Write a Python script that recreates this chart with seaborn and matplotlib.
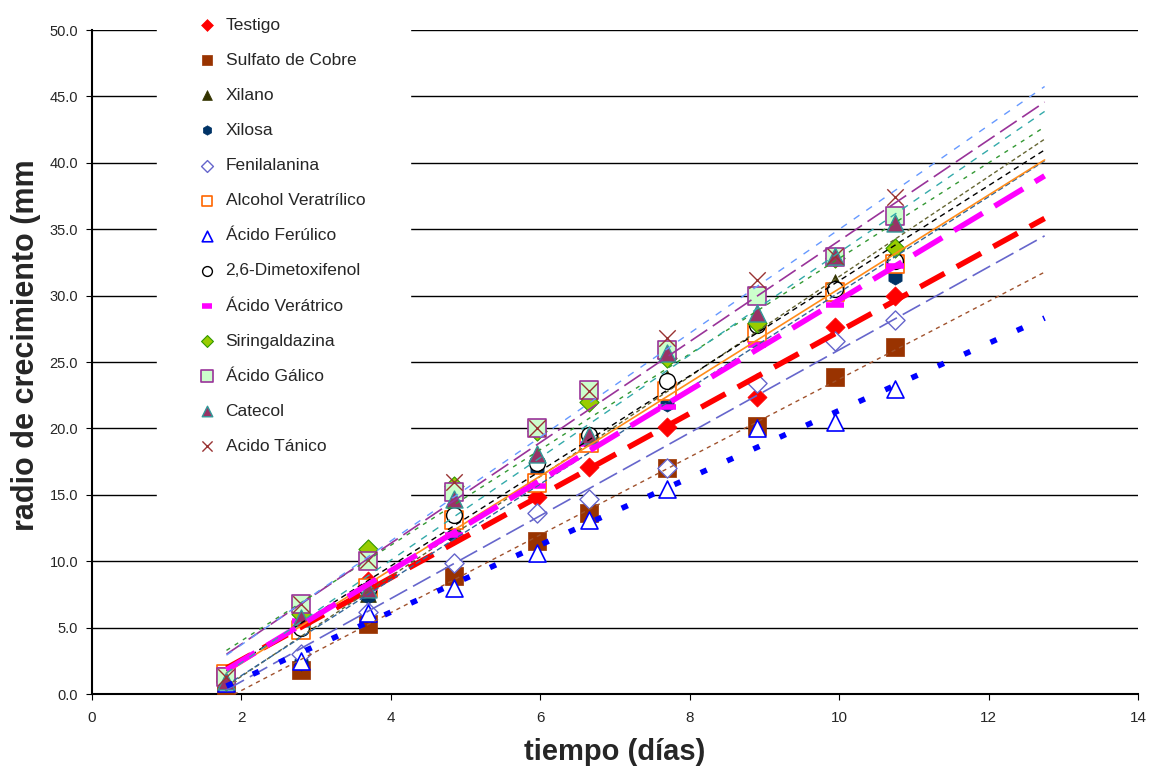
import numpy as np
import pandas as pd
import matplotlib
matplotlib.use('Agg')
import matplotlib.pyplot as plt
import seaborn as sns

# days of measurement (shared by all treatments)
dias = [1.8, 2.8, 3.7, 4.85, 5.95, 6.65, 7.7, 8.9, 9.95, 10.75]

testigo = [1.0, 5.3, 8.5, 12.0, 14.8, 17.1, 20.1, 22.4, 27.6, 30.0]
sulfato_cobre = [0.5, 1.8, 5.3, 8.9, 11.5, 13.6, 17.0, 20.2, 23.9, 26.1]
xilano = [0.8, 2.5, 7.5, 13.2, 16.5, 19.5, 23.8, 27.5, 31.0, 33.0]
xilosa = [1.0, 2.3, 7.4, 12.0, 16.7, 19.5, 21.8, 27.0, 30.0, 31.4]
fenilalanina = [1.2, 3.0, 6.2, 9.9, 13.6, 14.7, 17.0, 23.4, 26.6, 28.2]
alcohol_veratrilico = [1.5, 4.8, 8.0, 13.1, 15.9, 18.9, 22.8, 27.2, 30.3, 32.4]
acido_ferulico = [0.8, 2.5, 6.1, 8.0, 10.6, 13.1, 15.4, 20.0, 20.5, 23.0]
dimetoxifenol = [1.2, 5.0, 7.8, 13.5, 17.4, 19.5, 23.6, 27.8, 30.5, 32.6]
acido_veratrico = [1.8, 5.5, 8.0, 12.0, 15.7, 18.8, 21.6, 26.3, 29.3, 32.2]
siringaldazina = [1.0, 6.0, 10.9, 15.7, 19.8, 22.0, 25.3, 27.9, 32.8, 33.6]
acido_galico = [1.3, 6.8, 10.0, 15.2, 20.0, 22.9, 25.9, 30.0, 32.9, 36.0]
catecol = [1.0, 5.7, 7.9, 14.7, 18.1, 19.5, 25.7, 28.7, 33.0, 35.5]
acido_tanico = [1.3, 6.8, 10.1, 16.0, 20.0, 22.8, 26.8, 31.2, 33.0, 37.4]

nombres = ['Testigo', 'Sulfato de Cobre', 'Xilano', 'Xilosa', 'Fenilalanina',
           'Alcohol Veratrílico', 'Ácido Ferúlico', '2,6-Dimetoxifenol',
           'Ácido Verátrico', 'Siringaldazina', 'Ácido Gálico', 'Catecol',
           'Acido Tánico']
valores = [testigo, sulfato_cobre, xilano, xilosa, fenilalanina, alcohol_veratrilico,
           acido_ferulico, dimetoxifenol, acido_veratrico, siringaldazina,
           acido_galico, catecol, acido_tanico]

# marker: (marker, size, facecolor, edgecolor, edgewidth)
marcadores = [
    ('D', 95, '#FF0000', '#FF0000', 0.5),
    ('s', 150, '#993300', '#993300', 0.5),
    ('^', 130, '#333300', '#333300', 0.5),
    ('h', 120, '#003366', '#003366', 0.5),
    ('D', 95, 'white', '#6666CC', 1.0),
    ('s', 150, 'white', '#FF6600', 1.2),
    ('^', 150, 'white', '#0000FF', 1.2),
    ('o', 130, 'white', 'black', 1.0),
    ('_', 160, '#FF00FF', '#FF00FF', 4.0),
    ('D', 95, '#99CC00', '#339900', 0.8),
    ('s', 170, '#CCFFCC', '#993399', 1.2),
    ('^', 150, '#993366', '#339999', 1.0),
    ('x', 140, '#993333', '#993333', 1.0),
]

# trendline: (color, width, dash pattern)
tendencias = [
    ('#FF0000', 4.0, (5, 2.5)),
    ('#A0522D', 1.0, (3, 3)),
    ('#666633', 1.0, (3, 2)),
    ('#336699', 1.0, (4, 2)),
    ('#6666CC', 1.2, (12, 4)),
    ('#FF8C1A', 1.2, None),
    ('#0000FF', 4.0, (1.2, 4)),
    ('black', 1.0, (4, 3)),
    ('#FF00FF', 4.0, (6, 2.5)),
    ('#339933', 1.0, (3, 4)),
    ('#993399', 1.2, (12, 4)),
    ('#33AAAA', 1.0, (5, 5)),
    ('#6699FF', 1.0, (5, 6)),
]

sns.set_style('white')
plt.rcParams['font.family'] = ['Liberation Sans', 'DejaVu Sans']
narrow = ['Liberation Sans Narrow', 'Liberation Sans', 'DejaVu Sans']

fig = plt.figure(figsize=(11.49, 7.69), dpi=100)
ax = fig.add_axes([92/1149, 1 - 694/769, (1138 - 92)/1149, (694 - 30)/769])

x_fin = max(dias) + 2
for nombre, vals, (mk, s, fc, ec, ew), (lc, lw, ds) in zip(nombres, valores, marcadores, tendencias):
    df = pd.DataFrame({'dias': dias, 'radio': vals})
    sns.scatterplot(data=df, x='dias', y='radio', marker=mk, s=s, color=fc,
                    edgecolor=ec, linewidth=ew, label=nombre, ax=ax, zorder=3)
    m, b = np.polyfit(dias, vals, 1)
    xt = np.array([min(dias), x_fin])
    ls = '-' if ds is None else (0, ds)
    sns.lineplot(x=xt, y=m*xt + b, color=lc, lw=lw, linestyle=ls, ax=ax,
                 legend=False, zorder=4)

ax.set_xlim(0, 14)
ax.set_ylim(0, 50)
ax.set_xticks(range(0, 15, 2))
ax.set_yticks(np.arange(0, 51, 5))
ax.set_yticklabels([f'{v:.1f}' for v in np.arange(0, 51, 5)])
ax.yaxis.grid(True, color='black', lw=1)
ax.xaxis.grid(False)
ax.set_axisbelow(True)
for sp in ['top', 'right']:
    ax.spines[sp].set_visible(False)
for sp in ['left', 'bottom']:
    ax.spines[sp].set_color('black')
    ax.spines[sp].set_linewidth(1.5)
ax.tick_params(axis='both', direction='out', length=4, color='black', left=True, bottom=True)
ax.tick_params(axis='y', labelsize=10.5, pad=6)
for t in ax.get_xticklabels():
    t.set_family(narrow)
    t.set_fontsize(11)
ax.tick_params(axis='x', pad=8)

ax.set_xlabel('tiempo (días)', fontsize=21, fontweight='bold', family=narrow)
ax.xaxis.set_label_coords(0.5, -0.066)
ax.set_ylabel('radio de crecimiento (mm', fontsize=22, fontweight='bold')
ax.yaxis.set_label_coords(-0.049, 0.526)

leg = ax.legend(loc='upper left', bbox_to_anchor=(157/1149, 1.036), bbox_transform=fig.transFigure,
                frameon=True, facecolor='white', edgecolor='white', framealpha=1,
                fontsize=12.5, markerscale=0.62, labelspacing=1.15, borderpad=2.6,
                borderaxespad=0, handlelength=0.6, handletextpad=0.75, fancybox=False)
leg.set_zorder(10)

fig.savefig('out.png', dpi=100)
